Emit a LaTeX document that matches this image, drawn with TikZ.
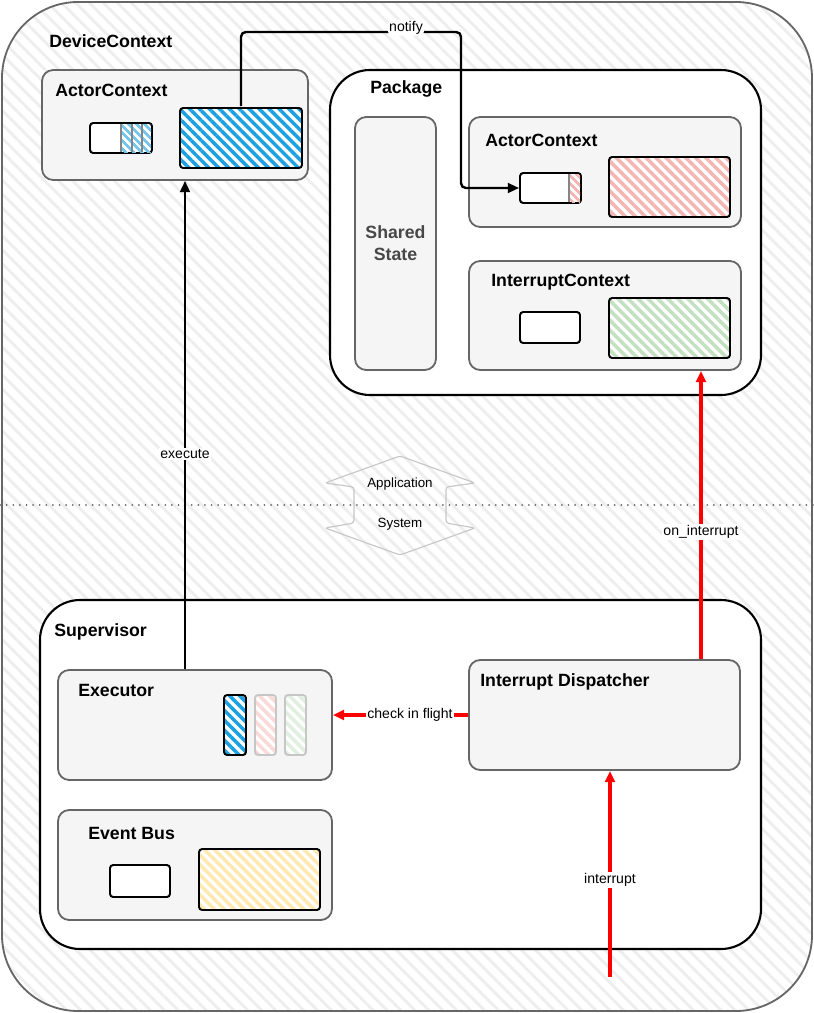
\documentclass[tikz,border=0pt]{standalone}
\usepackage{fontspec}
\setmainfont{Liberation Sans}
\usepackage{xcolor}
\usepackage{tikz}
\usetikzlibrary{arrows.meta, positioning, fit, calc, patterns.meta}

\definecolor{boxgray}{HTML}{F5F5F5}
\definecolor{edgegray}{HTML}{666666}
\definecolor{hatchblue}{HTML}{1BA1E2}
\definecolor{hatchred}{HTML}{F4B6B3}
\definecolor{hatchgreen}{HTML}{C3E0C1}
\definecolor{hatchyellow}{HTML}{FFE9B0}

\begin{document}
\begin{tikzpicture}[
    x=0.025cm, y=-0.025cm,
    frame/.style={draw=black, line width=1.5pt, fill=white, rounded corners=1cm, inner sep=0pt},
    ctx/.style={draw=edgegray, line width=1.3pt, fill=boxgray, rounded corners=0.28cm, inner sep=0pt},
    slot/.style={draw=black, line width=1.4pt, fill=white, rounded corners=0.08cm, inner sep=0pt},
    faintslot/.style={slot, draw=gray!45},
    hatch/.style={preaction={fill=white}, pattern={Lines[angle=-45, distance=5pt, line width=2.5pt]}, pattern color=#1},
    title/.style={anchor=base west, font=\fontsize{12.6}{15}\selectfont\bfseries, inner sep=0pt},
    arr/.style={-{Triangle[length=8pt, width=7pt]}, line width=1.7pt},
    redarr/.style={arr, draw=red, line width=2.2pt},
    lbl/.style={font=\fontsize{10}{12}\selectfont, fill=white, inner sep=1pt},
]
\useasboundingbox (0,0) rectangle (814,1013);

% Outer device frame
\node[draw=edgegray, line width=1.3pt, rounded corners=1.9cm, inner sep=0pt,
      preaction={fill=white}, pattern={Lines[angle=-45, distance=7pt, line width=2pt]}, pattern color=gray!13,
      fit={(2,2) (812,1011)}] (device) {};
\node[title] (devtitle) at (49,47) {DeviceContext};

% Application / System boundary
\draw[edgegray, line width=1.2pt, dash pattern=on 0.1pt off 4.6pt, line cap=round] (0,505) -- (814,505);
\draw[gray!45, line width=0.8pt, rounded corners=2pt]
    (400,456) -- (475,483) -- (446,487) -- (446,523) -- (475,528) -- (400,555)
    -- (325,528) -- (354,523) -- (354,487) -- (325,483) -- cycle;
\node[font=\fontsize{9.5}{11}\selectfont] (apptxt) at (400,484) {Application};
\node[font=\fontsize{9.5}{11}\selectfont] (systxt) at (400,524) {System};

% Actor context (top left)
\node[ctx, fit={(42,70) (308,180)}] (actora) {};
\node[title] (actoratitle) at (55,96) {ActorContext};
\node[slot, fit={(90,123) (152,153)}] (aqueue) {};
\path[pattern={Lines[angle=-45, distance=4pt, line width=2pt]}, pattern color=hatchblue!60] (120,124) rectangle (151,152);
\foreach \x in {121,132,142} {
    \draw[edgegray!80, line width=1pt] (\x,124) -- (\x,152);
}
\node[slot, hatch=hatchblue, fit={(180,108) (302,168)}] (astate) {};

% Package
\node[frame, fit={(330,70) (761,395)}] (package) {};
\node[title] (packagetitle) at (370,93) {Package};
\node[ctx, fit={(355,117) (436,370)}] (shared) {};
\node[font=\fontsize{12.6}{15.6}\selectfont\bfseries, text=black!72, align=center] (sharedtxt) at (shared.center) {Shared\\State};

\node[ctx, fit={(469,117) (741,227)}] (actorb) {};
\node[title] (actorbtitle) at (485,146) {ActorContext};
\node[slot, fit={(520,173) (581,203)}] (bqueue) {};
\path[pattern={Lines[angle=-45, distance=4pt, line width=2pt]}, pattern color=hatchred] (570,174) rectangle (580,202);
\draw[edgegray!80, line width=1pt] (569,174) -- (569,202);
\node[slot, hatch=hatchred, fit={(609,157) (730,217)}] (bstate) {};

\node[ctx, fit={(469,261) (741,370)}] (ictx) {};
\node[title] (ictxtitle) at (491,286) {InterruptContext};
\node[slot, fit={(520,312) (580,343)}] (iqueue) {};
\node[slot, hatch=hatchgreen, fit={(609,298) (730,358)}] (istate) {};

% Supervisor
\node[frame, fit={(40,600) (761,949)}] (supervisor) {};
\node[title] (supertitle) at (54,636) {Supervisor};

\node[ctx, fit={(58,670) (332,780)}] (exec) {};
\node[title] (exectitle) at (78,696) {Executor};
\node[slot, hatch=hatchblue, fit={(224,695) (246,755)}] (slota) {};
\node[faintslot, hatch=hatchred!50, fit={(255,695) (276,755)}] (slotb) {};
\node[faintslot, hatch=hatchgreen!50, fit={(285,695) (306,755)}] (slotc) {};

\node[ctx, fit={(58,810) (332,920)}] (bus) {};
\node[title] (bustitle) at (88,839) {Event Bus};
\node[slot, fit={(110,865) (170,897)}] (busqueue) {};
\node[slot, hatch=hatchyellow, fit={(199,849) (320,910)}] (busstate) {};

\node[ctx, fit={(469,660) (740,770)}] (disp) {};
\node[title] (disptitle) at (480,686) {Interrupt Dispatcher};

% Connectors
\coordinate (ntl) at (241,32);
\coordinate (ntr) at (461,32);
\draw[arr, rounded corners=0.12cm] (astate.north) -- (ntl)
    -- node[lbl, pos=0.75, yshift=3pt] {notify} (ntr) |- (bqueue.west);

\coordinate (exx) at (185,0);
\draw[arr] (exec.north -| exx) -- node[lbl, pos=0.44] {execute} (actora.south -| exx);

\coordinate (oix) at (701,0);
\draw[redarr] (disp.north -| oix) -- node[lbl, pos=0.44] {on\_interrupt} (ictx.south -| oix);

\draw[redarr] (disp.west) -- node[lbl, pos=0.43] {check in flight} (disp.west -| exec.east);

\coordinate (irq) at (610,977);
\draw[redarr] (irq) -- node[lbl, pos=0.47] {interrupt} (irq |- disp.south);

\end{tikzpicture}
\end{document}
